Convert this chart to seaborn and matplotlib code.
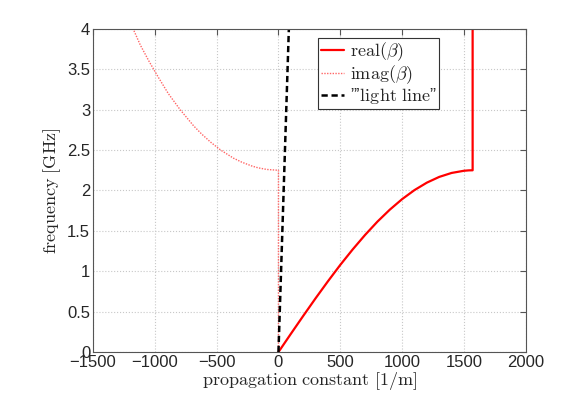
import matplotlib
matplotlib.use("Agg")
import matplotlib.pyplot as plt
import pandas as pd
import seaborn as sns

# real part of beta (passband), then vertical jump at the band edge
real_beta = [0, 100, 200, 300, 400, 500, 600, 700, 800, 900, 1000,
             1100, 1200, 1300, 1400, 1500, 1540, 1570, 1570]
real_freq = [0.0, 0.225, 0.447, 0.665, 0.876, 1.079, 1.270, 1.449, 1.614,
             1.762, 1.893, 2.005, 2.097, 2.168, 2.217, 2.244, 2.249, 2.25, 4.0]

# imag part of beta (stopband)
imag_beta = [0, 0, -94, -163, -210, -296, -364, -467, -550, -622, -686,
             -795, -891, -971, -1047, -1117, -1175]
imag_freq = [0.0, 2.25, 2.26, 2.28, 2.3, 2.35, 2.4, 2.5, 2.6, 2.7, 2.8,
             3.0, 3.2, 3.4, 3.6, 3.8, 4.0]

# light line
light_beta = [0, 84]
light_freq = [0, 4]

xticks = [-1500, -1000, -500, 0, 500, 1000, 1500, 2000]
yticks = [0, 0.5, 1, 1.5, 2, 2.5, 3, 3.5, 4]

sns.set_style("white")
plt.rcParams["font.family"] = ["Liberation Sans", "DejaVu Sans"]
plt.rcParams["mathtext.fontset"] = "cm"

fig = plt.figure(figsize=(5.81, 3.96), dpi=100)
ax = fig.add_axes([0.160, 0.111, 0.745, 0.816])

df_real = pd.DataFrame({"b": real_beta, "f": real_freq})
df_imag = pd.DataFrame({"b": imag_beta, "f": imag_freq})
df_light = pd.DataFrame({"b": light_beta, "f": light_freq})

sns.lineplot(data=df_real, x="b", y="f", sort=False, estimator=None, ax=ax,
             color="#ff0000", lw=1.6, label=r"$\mathrm{real}(\beta)$")
sns.lineplot(data=df_imag, x="b", y="f", sort=False, estimator=None, ax=ax,
             color="#ff6666", lw=1.0, ls=(0, (1, 1)),
             label=r"$\mathrm{imag}(\beta)$")
sns.lineplot(data=df_light, x="b", y="f", sort=False, estimator=None, ax=ax,
             color="black", lw=1.8, ls=(0, (2.5, 1.5)),
             label="\u201d\u2019" + r"$\mathrm{light\ line}$" + "\u201d")

ax.set_xlim(-1500, 2000)
ax.set_ylim(0, 4)
ax.set_xticks(xticks)
ax.set_yticks(yticks)
ax.set_xticklabels(["\u22121500", "\u22121000", "\u2212500", "0", "500", "1000", "1500", "2000"])
ax.set_yticklabels(["0", "0.5", "1", "1.5", "2", "2.5", "3", "3.5", "4"])
ax.tick_params(direction="in", length=4, labelsize=12, top=True, right=True,
               color="#555555", pad=2)
ax.grid(True, ls=":", color="#c8c8c8", lw=0.8)
for s in ax.spines.values():
    s.set_color("#555555")
    s.set_linewidth(0.8)

ax.set_xlabel(r"$\mathrm{propagation\ constant\ [1/m]}$", fontsize=13, labelpad=0)
ax.set_ylabel(r"$\mathrm{frequency\ [GHz]}$", fontsize=13, labelpad=3)

leg = ax.legend(loc="upper left", bbox_to_anchor=(0.52, 0.972), fontsize=13,
                frameon=True, fancybox=False, framealpha=1, edgecolor="#333333",
                handlelength=1.3, handletextpad=0.3, borderpad=0.15,
                labelspacing=0.0, borderaxespad=0)
leg.get_frame().set_linewidth(0.8)

fig.savefig("out.png", dpi=100)
